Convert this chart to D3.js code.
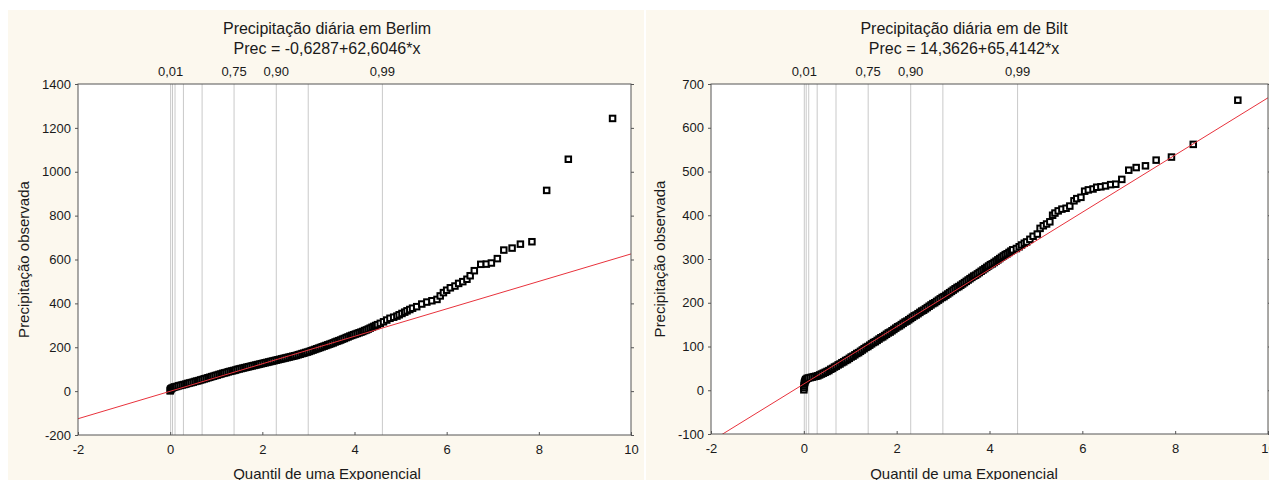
<html>
<head>
  <meta charset="utf-8">
  <title>Precipitação diária - QQ exponencial</title>
  <script src="https://d3js.org/d3.v7.min.js"></script>
  <style>
    body { margin: 0; background: #ffffff; font-family: 'Liberation Sans', Arial, sans-serif; }
    text { fill: #1a1a1a; }
  </style>
</head>
<body>
<svg id="grafico" width="1269" height="480"></svg>
<script>

// ---- dados ----

// probabilidades marcadas no topo (linhas verticais)
var probabilidades = [0.01, 0.05, 0.10, 0.25, 0.50, 0.75, 0.90, 0.95, 0.99];
var probRotuladas = ["0,01", "0,75", "0,90", "0,99"];

var berlimTitulo = ["Precipitação diária em Berlim", "Prec = -0,6287+62,6046*x"];
var berlimReta = [-0.6287, 62.6046];
var berlimTicksY = [-200, 0, 200, 400, 600, 800, 1000, 1200, 1400];

// [quantil exponencial, precipitacao observada]
var berlimPontos = [
  [0.000, 1], [0.005, 5], [0.010, 8], [0.020, 11], [0.040, 14], [0.070, 17], [0.10, 19],
  [0.14, 21], [0.18, 24], [0.22, 26], [0.26, 28], [0.30, 30], [0.34, 32], [0.38, 35],
  [0.42, 37], [0.46, 39], [0.50, 41], [0.54, 44], [0.58, 46], [0.62, 48], [0.66, 51],
  [0.70, 53], [0.74, 56], [0.78, 58], [0.82, 61], [0.86, 63], [0.90, 66], [0.94, 68],
  [0.98, 71], [1.02, 73], [1.06, 76], [1.10, 78], [1.14, 81], [1.18, 83], [1.22, 85],
  [1.26, 88], [1.30, 90], [1.34, 92], [1.38, 94], [1.42, 96], [1.46, 99], [1.50, 101],
  [1.54, 103], [1.58, 105], [1.62, 107], [1.66, 109], [1.70, 111], [1.74, 113], [1.78, 115],
  [1.82, 117], [1.86, 119], [1.90, 121], [1.94, 123], [1.98, 125], [2.02, 127], [2.06, 129],
  [2.10, 131], [2.14, 133], [2.18, 135], [2.22, 137], [2.26, 139], [2.30, 141], [2.34, 143],
  [2.38, 145], [2.42, 147], [2.46, 149], [2.50, 151], [2.54, 153], [2.58, 155], [2.62, 157],
  [2.66, 159], [2.70, 161], [2.74, 163], [2.78, 166], [2.82, 168], [2.86, 171], [2.90, 173],
  [2.94, 176], [2.98, 178], [3.02, 181], [3.06, 184], [3.10, 187], [3.14, 190], [3.18, 193],
  [3.22, 196], [3.26, 199], [3.30, 202], [3.34, 205], [3.38, 208], [3.42, 211], [3.46, 214],
  [3.50, 217], [3.54, 220], [3.58, 224], [3.62, 227], [3.66, 230], [3.70, 233], [3.74, 237],
  [3.78, 240], [3.82, 244], [3.86, 247], [3.90, 251], [3.94, 254], [3.98, 257], [4.02, 260],
  [4.06, 263], [4.10, 266], [4.14, 269], [4.18, 272], [4.22, 276], [4.26, 279], [4.30, 283],
  [4.34, 287], [4.38, 291], [4.42, 295], [4.46, 299], [4.50, 303], [4.56, 309], [4.63, 316],
  [4.70, 324], [4.77, 332], [4.85, 337], [4.92, 342], [4.97, 348], [5.03, 354], [5.09, 360],
  [5.14, 366], [5.20, 372], [5.26, 378], [5.35, 385], [5.46, 397], [5.57, 406], [5.68, 412],
  [5.79, 418], [5.86, 434], [5.93, 449], [6.00, 460], [6.08, 471], [6.18, 479], [6.26, 491],
  [6.35, 499], [6.44, 510], [6.51, 526], [6.60, 549], [6.74, 578], [6.86, 579], [6.97, 584],
  [7.10, 604], [7.24, 643], [7.42, 652], [7.60, 670], [7.85, 681], [8.17, 915], [8.64, 1057],
  [9.60, 1243]
];

var biltTitulo = ["Precipitação diária em de Bilt", "Prec = 14,3626+65,4142*x"];
var biltReta = [14.3626, 65.4142];
var biltTicksY = [-100, 0, 100, 200, 300, 400, 500, 600, 700];

var biltPontos = [
  [0.000, 1], [0.003, 6], [0.006, 10], [0.010, 14], [0.015, 17], [0.020, 19], [0.030, 22],
  [0.040, 24], [0.050, 25], [0.070, 27], [0.10, 28], [0.14, 29], [0.18, 30], [0.22, 31],
  [0.26, 32], [0.30, 33], [0.34, 35], [0.38, 37], [0.42, 39], [0.46, 41], [0.50, 43],
  [0.54, 45], [0.58, 48], [0.62, 50], [0.66, 53], [0.70, 55], [0.74, 58], [0.78, 60],
  [0.82, 63], [0.86, 65], [0.90, 68], [0.94, 70], [0.98, 73], [1.02, 76], [1.06, 78],
  [1.10, 81], [1.14, 84], [1.18, 86], [1.22, 89], [1.26, 92], [1.30, 95], [1.34, 98],
  [1.38, 100], [1.42, 103], [1.46, 106], [1.50, 109], [1.54, 111], [1.58, 114], [1.62, 117],
  [1.66, 120], [1.70, 122], [1.74, 125], [1.78, 128], [1.82, 131], [1.86, 133], [1.90, 136],
  [1.94, 139], [1.98, 142], [2.02, 145], [2.06, 147], [2.10, 150], [2.14, 153], [2.18, 156],
  [2.22, 158], [2.26, 161], [2.30, 164], [2.34, 167], [2.38, 170], [2.42, 172], [2.46, 175],
  [2.50, 178], [2.54, 181], [2.58, 183], [2.62, 186], [2.66, 189], [2.70, 192], [2.74, 195],
  [2.78, 198], [2.82, 200], [2.86, 203], [2.90, 206], [2.94, 209], [2.98, 212], [3.02, 214],
  [3.06, 217], [3.10, 220], [3.14, 223], [3.18, 226], [3.22, 229], [3.26, 232], [3.30, 235],
  [3.34, 237], [3.38, 240], [3.42, 243], [3.46, 246], [3.50, 249], [3.54, 252], [3.58, 255],
  [3.62, 258], [3.66, 261], [3.70, 263], [3.74, 266], [3.78, 269], [3.82, 272], [3.86, 275],
  [3.90, 278], [3.94, 281], [3.98, 284], [4.02, 287], [4.06, 289], [4.10, 292], [4.14, 295],
  [4.18, 298], [4.22, 301], [4.26, 304], [4.30, 307], [4.34, 310], [4.38, 312], [4.42, 315],
  [4.46, 318], [4.50, 321], [4.58, 324], [4.64, 328], [4.69, 332], [4.75, 336], [4.80, 339],
  [4.87, 345], [4.94, 352], [5.03, 357], [5.09, 370], [5.16, 376], [5.23, 380], [5.30, 385],
  [5.36, 400], [5.41, 405], [5.48, 410], [5.56, 414], [5.65, 416], [5.73, 421], [5.82, 433],
  [5.88, 438], [5.97, 441], [6.05, 455], [6.13, 458], [6.23, 460], [6.31, 464], [6.40, 465],
  [6.50, 467], [6.61, 470], [6.72, 471], [6.85, 482], [7.00, 503], [7.16, 509], [7.36, 513],
  [7.59, 526], [7.92, 533], [8.39, 562], [9.35, 663]
];

var ticksX = [-2, 0, 2, 4, 6, 8, 10];
var rotuloX = "Quantil de uma Exponencial";
var rotuloY = "Precipitação observada";


var svg = d3.select("#grafico");

function desenhaPainel(cfg) {
  var g = svg.append("g");

  // fundo creme do painel
  g.append("rect")
    .attr("x", cfg.painel[0]).attr("y", 10)
    .attr("width", cfg.painel[1]).attr("height", 480)
    .attr("fill", "#fcf8ee");

  var x = d3.scaleLinear().domain([-2, 10]).range([cfg.x0, cfg.x1]);
  var y = d3.scaleLinear().domain(cfg.dominioY).range([cfg.y1, cfg.y0]);

  var clipId = "clip" + cfg.id;
  g.append("clipPath").attr("id", clipId)
    .append("rect")
    .attr("x", cfg.x0).attr("y", cfg.y0)
    .attr("width", cfg.x1 - cfg.x0).attr("height", cfg.y1 - cfg.y0);

  g.append("rect")
    .attr("x", cfg.x0).attr("y", cfg.y0)
    .attr("width", cfg.x1 - cfg.x0).attr("height", cfg.y1 - cfg.y0)
    .attr("fill", "#ffffff");

  // linhas das probabilidades (quantis da exponencial)
  g.selectAll(".prob")
    .data(probabilidades)
  .enter().append("line")
    .attr("x1", function(p) { return x(-Math.log(1 - p)); })
    .attr("x2", function(p) { return x(-Math.log(1 - p)); })
    .attr("y1", cfg.y0).attr("y2", cfg.y1)
    .attr("stroke", "#c9c9c9").attr("stroke-width", 1);

  g.selectAll(".probtxt")
    .data(probabilidades.filter(function(p) { return probRotuladas.indexOf(p.toFixed(2).replace(".", ",")) >= 0; }))
  .enter().append("text")
    .attr("x", function(p) { return x(-Math.log(1 - p)); })
    .attr("y", 76)
    .attr("text-anchor", "middle")
    .style("font-size", "13px")
    .text(function(p) { return p.toFixed(2).replace(".", ","); });

  // titulos
  g.selectAll(".titulo")
    .data(cfg.titulo)
  .enter().append("text")
    .attr("x", cfg.centroTitulo)
    .attr("y", function(d, i) { return 34 + i * 20; })
    .attr("text-anchor", "middle")
    .style("font-size", "16px")
    .text(function(d) { return d; });

  // pontos
  var tam = 5.5;
  g.append("g")
    .attr("clip-path", "url(#" + clipId + ")")
  .selectAll("rect")
    .data(cfg.pontos)
  .enter().append("rect")
    .attr("x", function(d) { return x(d[0]) - tam / 2; })
    .attr("y", function(d) { return y(d[1]) - tam / 2; })
    .attr("width", tam).attr("height", tam)
    .attr("fill", "#ffffff")
    .attr("stroke", "#000000")
    .attr("stroke-width", 2);

  // reta ajustada
  g.append("line")
    .attr("clip-path", "url(#" + clipId + ")")
    .attr("x1", x(-2)).attr("y1", y(cfg.reta[0] + cfg.reta[1] * -2))
    .attr("x2", x(10)).attr("y2", y(cfg.reta[0] + cfg.reta[1] * 10))
    .attr("stroke", "#e8323c").attr("stroke-width", 1);

  // eixos
  var fmt = function(d) { return String(d); };

  var eixoY = g.append("g")
    .attr("transform", "translate(" + cfg.x0 + ",0)")
    .call(d3.axisLeft(y).tickValues(cfg.ticksY).tickSize(3).tickPadding(4).tickFormat(fmt));
  eixoY.select(".domain").remove();

  var eixoYdir = g.append("g")
    .attr("transform", "translate(" + cfg.x1 + ",0)")
    .call(d3.axisRight(y).tickValues(cfg.ticksY).tickSize(3).tickFormat(""));
  eixoYdir.select(".domain").remove();

  var eixoX = g.append("g")
    .attr("transform", "translate(0," + cfg.y1 + ")")
    .call(d3.axisBottom(x).tickValues(ticksX).tickSize(-3).tickPadding(10).tickFormat(fmt));
  eixoX.select(".domain").remove();

  g.selectAll(".tick line").attr("stroke", "#555555");
  g.selectAll(".tick text")
    .style("font-size", "13px")
    .style("font-family", "'Liberation Sans', Arial, sans-serif")
    .attr("fill", "#1a1a1a");

  // moldura
  g.append("rect")
    .attr("x", cfg.x0).attr("y", cfg.y0)
    .attr("width", cfg.x1 - cfg.x0).attr("height", cfg.y1 - cfg.y0)
    .attr("fill", "none")
    .attr("stroke", "#555555").attr("stroke-width", 1);

  // rotulos dos eixos
  g.append("text")
    .attr("transform", "translate(" + cfg.xRotuloY + "," + ((cfg.y0 + cfg.y1) / 2) + ") rotate(-90)")
    .attr("text-anchor", "middle")
    .style("font-size", "15px")
    .text(rotuloY);

  g.append("text")
    .attr("x", cfg.centroTitulo)
    .attr("y", 479)
    .attr("text-anchor", "middle")
    .style("font-size", "15px")
    .text(rotuloX);
}

desenhaPainel({
  id: "berlim", painel: [8, 636], centroTitulo: 327,
  x0: 78, x1: 631, y0: 84, y1: 435, xRotuloY: 29,
  dominioY: [-200, 1400], ticksY: berlimTicksY,
  titulo: berlimTitulo, reta: berlimReta, pontos: berlimPontos
});

desenhaPainel({
  id: "bilt", painel: [646, 640], centroTitulo: 964,
  x0: 711, x1: 1268, y0: 84, y1: 434, xRotuloY: 665,
  dominioY: [-100, 700], ticksY: biltTicksY,
  titulo: biltTitulo, reta: biltReta, pontos: biltPontos
});

</script>
</body>
</html>
